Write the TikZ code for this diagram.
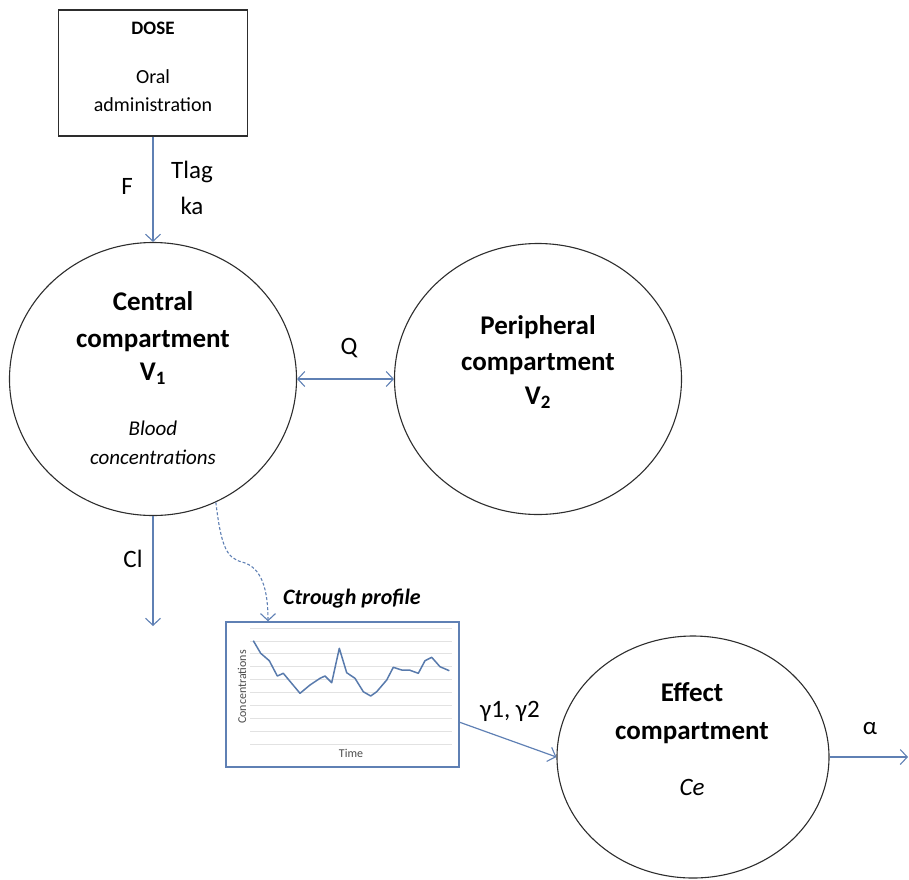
\documentclass[tikz,border=0pt]{standalone}
\usepackage{fontspec}
\setmainfont{Carlito}
\usetikzlibrary{arrows.meta,shapes.geometric}
\definecolor{arr}{RGB}{95,128,180}
\definecolor{dataline}{RGB}{88,122,172}
\definecolor{gridc}{RGB}{226,226,226}
\definecolor{edge}{RGB}{45,45,45}
\begin{document}
\begin{tikzpicture}[x=1pt,y=-1pt,
  comp/.style={draw=edge, line width=1.1pt, ellipse, inner sep=0pt},
  tipb/.tip={Straight Barb[length=7pt,width=15pt,line width=1.1pt]},
  flow/.style={draw=arr, line width=1.2pt, -tipb},
  twoway/.style={draw=arr, line width=1.2pt, tipb-tipb},
  big/.style={font=\fontsize{27}{32}\selectfont\bfseries, inner sep=0pt, anchor=mid},
  lab/.style={font=\fontsize{25}{30}\selectfont, inner sep=0pt, anchor=mid},
  mid20/.style={font=\fontsize{20}{24}\selectfont, inner sep=0pt, anchor=mid},
  small/.style={font=\fontsize{12}{14}\selectfont, text=black!70, inner sep=0pt}]
\useasboundingbox (0,0) rectangle (909,879);

% dose box
\node[draw=edge, line width=1.2pt, minimum width=189pt, minimum height=126pt, inner sep=0pt] (dose) at (153,73) {};
\node[mid20, font=\fontsize{19}{23}\selectfont\bfseries] (dosetitle) at (153,32) {DOSE};
\node[mid20] (oral) at (153,81) {Oral};
\node[mid20] (admin) at (153,109) {administration};

% compartments
\node[comp, minimum width=287pt, minimum height=273pt] (central) at (153,379) {};
\node[comp, minimum width=287pt, minimum height=271pt] (periph) at (538,379) {};
\node[comp, minimum width=272pt, minimum height=242pt] (effect) at (693,757) {};

\node[big] (c1) at (153,308) {Central};
\node[big] (c2) at (153,345) {compartment};
\node[big] (c3) at (153,378) {V\textsubscript{1}};
\node[mid20, font=\fontsize{21}{25}\selectfont\itshape] (c4) at (153,433) {Blood};
\node[mid20, font=\fontsize{21}{25}\selectfont\itshape] (c5) at (153,462) {concentrations};

\node[big] (p1) at (538,332) {Peripheral};
\node[big] (p2) at (538,368) {compartment};
\node[big] (p3) at (538,402) {V\textsubscript{2}};

\node[big] (e1) at (692,699) {Effect};
\node[big] (e2) at (692,737) {compartment};
\node[lab, font=\fontsize{25}{30}\selectfont\itshape] (e3) at (692,793) {Ce};

% dose arrow
\draw[flow] (dose.south) -- (central.north);
\node[lab] (lF) at (127,192) {F};
\node[lab] (lT) at (192,176) {Tlag};
\node[lab] (lka) at (192,212) {ka};

% Q
\draw[twoway] (central.east) -- (periph.west);
\node[lab] (lQ) at (349,352) {Q};

% Cl
\coordinate (clend) at (153,626);
\draw[flow] (central.south) -- (clend);
\node[lab] (lCl) at (133,565) {Cl};

% chart
\node[draw=arr, line width=1.4pt, minimum width=233pt, minimum height=145pt, inner sep=0pt] (chart) at (342.5,694.5) {};
\foreach \k in {0,...,9} {
  \draw[gridc, line width=0.8pt] (250,628+12.9*\k) -- (452,628+12.9*\k);
}
\draw[dataline, line width=1.5pt, line join=round]
  (253.3,640.7) -- (260.7,653.3) -- (269.3,660.7) -- (277.3,676) -- (283.3,673.3)
  -- (300,693.3) -- (310,685) -- (320,678.3) -- (325,676) -- (331.7,682.7)
  -- (339.3,648.3) -- (346.7,672.7) -- (355,678.3) -- (363.3,691.7) -- (370.7,696)
  -- (376.7,691.7) -- (386.7,680) -- (393.3,667.3) -- (401.7,670) -- (409.3,670)
  -- (418.3,673.3) -- (425,660.7) -- (431.7,657.3) -- (440,666.7) -- (449.3,670.7);
\node[small, rotate=90] (yl) at (242,687) {Concentrations};
\node[small] (xl) at (351,753) {Time};
\node[font=\fontsize{22}{26}\selectfont\bfseries\itshape, inner sep=0pt, anchor=mid] (ctr) at (352,602) {Ctrough profile};

% dashed link
\draw[draw=arr, line width=1.1pt, dashed, dash pattern=on 3pt off 2pt, -tipb]
  (central.-63) .. controls (221,545) and (226,558) .. (242,562)
  .. controls (262,567) and (268,590) .. (chart.north west -| 268,0);

% gamma arrow
\coordinate (gstart) at (459,722);
\draw[flow] (gstart) -- (effect.west);
\node[lab] (lg) at (510,715) {γ1, γ2};

% alpha
\coordinate (aend) at (908,757);
\draw[flow] (effect.east) -- (aend);
\node[lab] (la) at (870,732) {α};
\end{tikzpicture}
\end{document}
